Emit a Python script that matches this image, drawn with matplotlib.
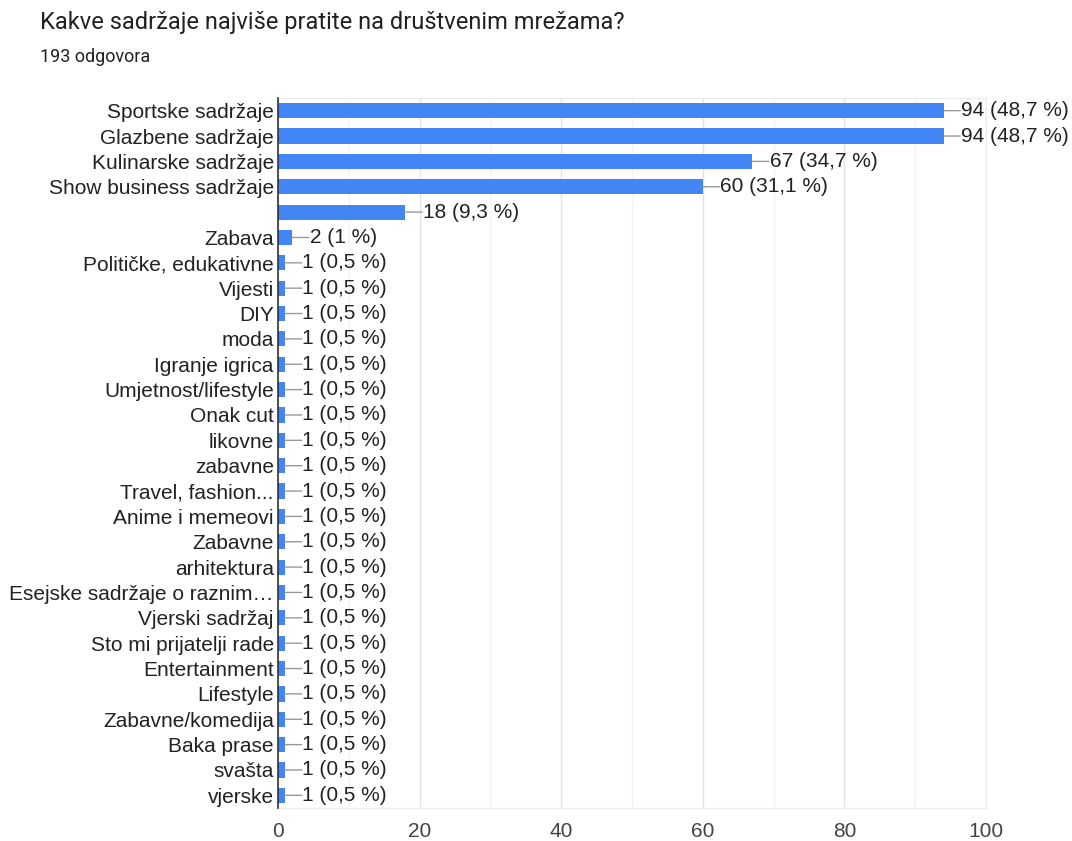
import matplotlib
matplotlib.use("Agg")
import matplotlib.pyplot as plt
import numpy as np

title = "Kakve sadržaje najviše pratite na društvenim mrežama?"
subtitle = "193 odgovora"

categories = [
    "Sportske sadržaje", "Glazbene sadržaje", "Kulinarske sadržaje",
    "Show business sadržaje", "", "Zabava", "Političke, edukativne",
    "Vijesti", "DIY", "moda", "Igranje igrica", "Umjetnost/lifestyle",
    "Onak cut", "likovne", "zabavne", "Travel, fashion...",
    "Anime i memeovi", "Zabavne", "arhitektura",
    "Esejske sadržaje o raznim…", "Vjerski sadržaj",
    "Sto mi prijatelji rade", "Entertainment", "Lifestyle",
    "Zabavne/komedija", "Baka prase", "svašta", "vjerske",
]
counts = [94, 94, 67, 60, 18, 2] + [1] * 22
percents = ["48,7", "48,7", "34,7", "31,1", "9,3", "1"] + ["0,5"] * 22
xticks = [0, 20, 40, 60, 80, 100]

FAM = ["Liberation Sans", "DejaVu Sans"]

fig = plt.figure(figsize=(10.72, 8.41), dpi=100)
top_px, bot_px = 98, 808
ax = fig.add_axes([278 / 1072, 1 - bot_px / 841, (986 - 278) / 1072, (bot_px - top_px) / 841])

n = len(categories)
y = np.arange(n)
ax.barh(y, counts, height=0.6, color="#4285f4", zorder=3)
ax.set_ylim(n - 0.5, -0.5)
ax.set_xlim(0, 100)

ax.set_yticks(y)
ax.set_yticklabels(categories, fontsize=15, color="#222222", family=FAM)
ax.tick_params(axis="y", length=0, pad=3)
ax.set_xticks(xticks)
ax.set_xticklabels([str(t) for t in xticks], fontsize=15, color="#444444", family=FAM)
ax.set_xticks(np.arange(10, 100, 20), minor=True)
ax.tick_params(axis="x", which="both", length=0, pad=10)

ax.grid(axis="x", which="major", color="#e4e4e4", linewidth=1, zorder=0)
ax.grid(axis="x", which="minor", color="#f3f3f3", linewidth=1, zorder=0)

for s in ["top", "right", "bottom"]:
    ax.spines[s].set_color("#eeeeee")
    ax.spines[s].set_linewidth(1)
ax.spines["left"].set_color("#333333")
ax.spines["left"].set_linewidth(1.2)
ax.spines["left"].set_zorder(4)

for yi, c, p in zip(y, counts, percents):
    ax.annotate("", xy=(c, yi), xytext=(12, 0), textcoords="offset points",
                arrowprops=dict(arrowstyle="-", color="#999999", lw=1,
                                shrinkA=0, shrinkB=0), zorder=4)
    ax.annotate(f"{c} ({p} %)", xy=(c, yi), xytext=(12.5, 0),
                textcoords="offset points", va="center", ha="left",
                fontsize=15, color="#222222", family=FAM, zorder=5)

fig.text(40 / 1072, 1 - 22 / 841, title, fontsize=17, color="#202124",
         family=["Roboto", "DejaVu Sans"], va="center", ha="left")
fig.text(40 / 1072, 1 - 57 / 841, subtitle, fontsize=13, color="#202124",
         family=["Roboto", "DejaVu Sans"], va="center", ha="left")

fig.savefig("out.png", dpi=100, facecolor="white")
